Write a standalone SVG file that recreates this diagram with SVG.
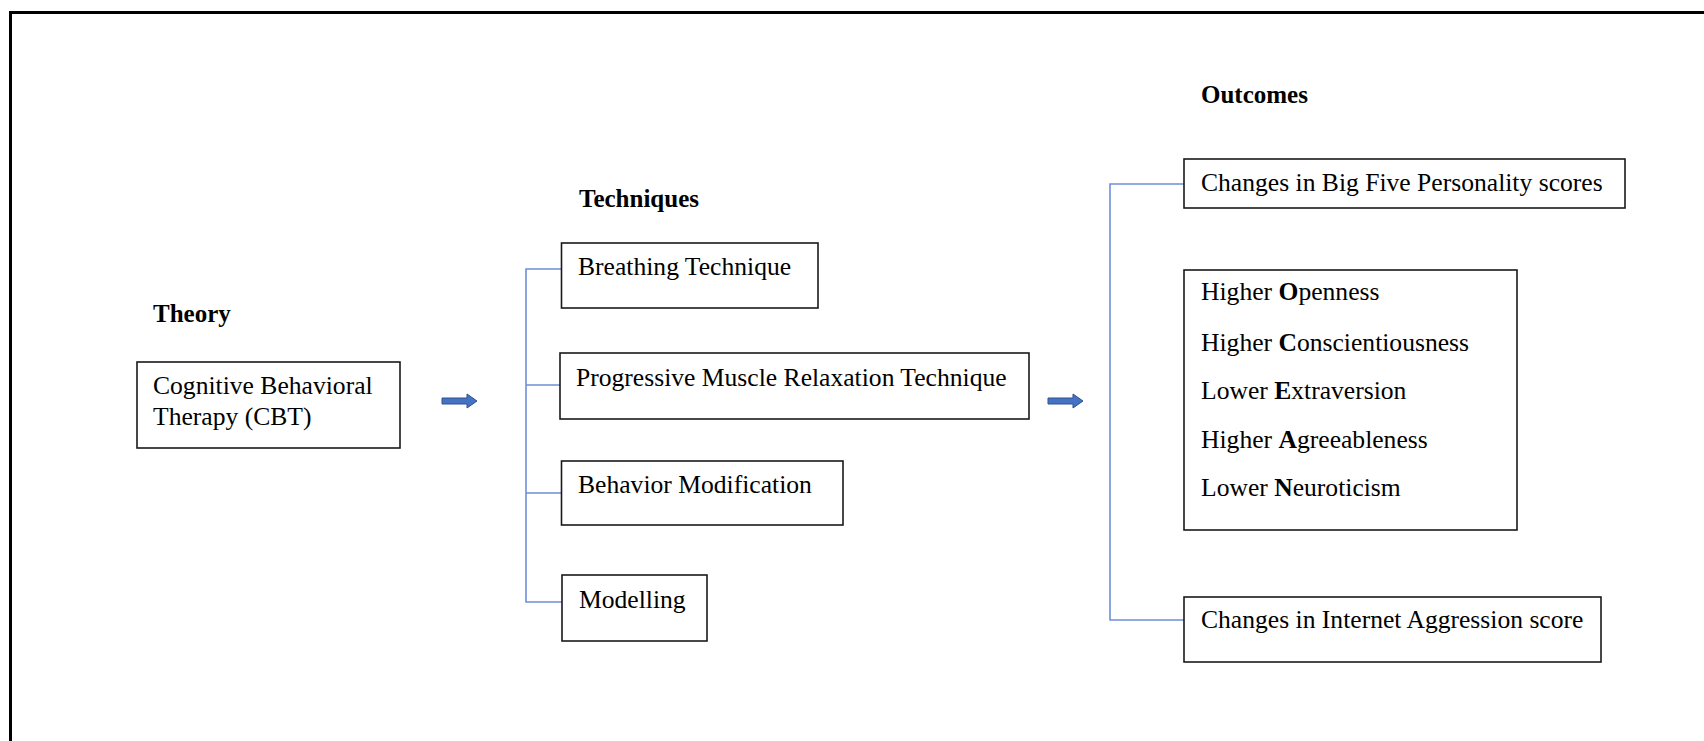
<svg xmlns="http://www.w3.org/2000/svg" width="1704" height="741" viewBox="0 0 1704 741">
<style>
text{font-family:"Liberation Serif","Times New Roman",serif;font-size:25.6px;fill:#000}
.h{font-weight:bold;font-size:25px}
.b{font-weight:bold}
.box{fill:#fff;stroke:#1a1a1a;stroke-width:1.6}
.br{fill:none;stroke:#6f8fd6;stroke-width:1.6}
.arr{fill:#4472c4;stroke:#2f528f;stroke-width:1}
</style>
<rect width="1704" height="741" fill="#fff"/>
<path d="M10.5,745 V12.5 H1710" fill="none" stroke="#000" stroke-width="3"/>

<g id="connectors">
<path class="br" d="M561,269 H526 V602 H562 M526,385 H560 M526,493 H561"/>
<path class="br" d="M1184,184 H1110 V620 H1184"/>
<polygon class="arr" points="442,398 467,398 467,394 477,401 467,408 467,404 442,404"/>
<polygon class="arr" points="1048,398 1073,398 1073,394 1083,401 1073,408 1073,404 1048,404"/>
</g>

<g id="theory">
<text class="h" x="153" y="322">Theory</text>
<rect class="box" x="137" y="362" width="263" height="86"/>
<text x="153" y="394">Cognitive Behavioral</text>
<text x="153" y="425">Therapy (CBT)</text>
</g>

<g id="techniques-label"><text class="h" x="579" y="207">Techniques</text></g>
<g id="breathing">
<rect class="box" x="561.5" y="243" width="256.5" height="65"/>
<text x="578" y="275">Breathing Technique</text>
</g>
<g id="pmr">
<rect class="box" x="560" y="353" width="469" height="66"/>
<text x="576" y="386">Progressive Muscle Relaxation Technique</text>
</g>
<g id="behavior">
<rect class="box" x="561.5" y="461" width="281.5" height="64"/>
<text x="578" y="493">Behavior Modification</text>
</g>
<g id="modelling">
<rect class="box" x="562" y="575" width="145" height="66"/>
<text x="579" y="608">Modelling</text>
</g>

<g id="outcomes-label"><text class="h" x="1201" y="103">Outcomes</text></g>
<g id="bigfive">
<rect class="box" x="1184" y="159" width="441" height="49"/>
<text x="1201" y="191">Changes in Big Five Personality scores</text>
</g>
<g id="traits">
<rect class="box" x="1184" y="270" width="333" height="260"/>
<text x="1201" y="300">Higher <tspan class="b">O</tspan>penness</text>
<text x="1201" y="351">Higher <tspan class="b">C</tspan>onscientiousness</text>
<text x="1201" y="399">Lower <tspan class="b">E</tspan>xtraversion</text>
<text x="1201" y="448">Higher <tspan class="b">A</tspan>greeableness</text>
<text x="1201" y="496">Lower <tspan class="b">N</tspan>euroticism</text>
</g>
<g id="internet">
<rect class="box" x="1184" y="597" width="417" height="65"/>
<text x="1201" y="628">Changes in Internet Aggression score</text>
</g>
</svg>
